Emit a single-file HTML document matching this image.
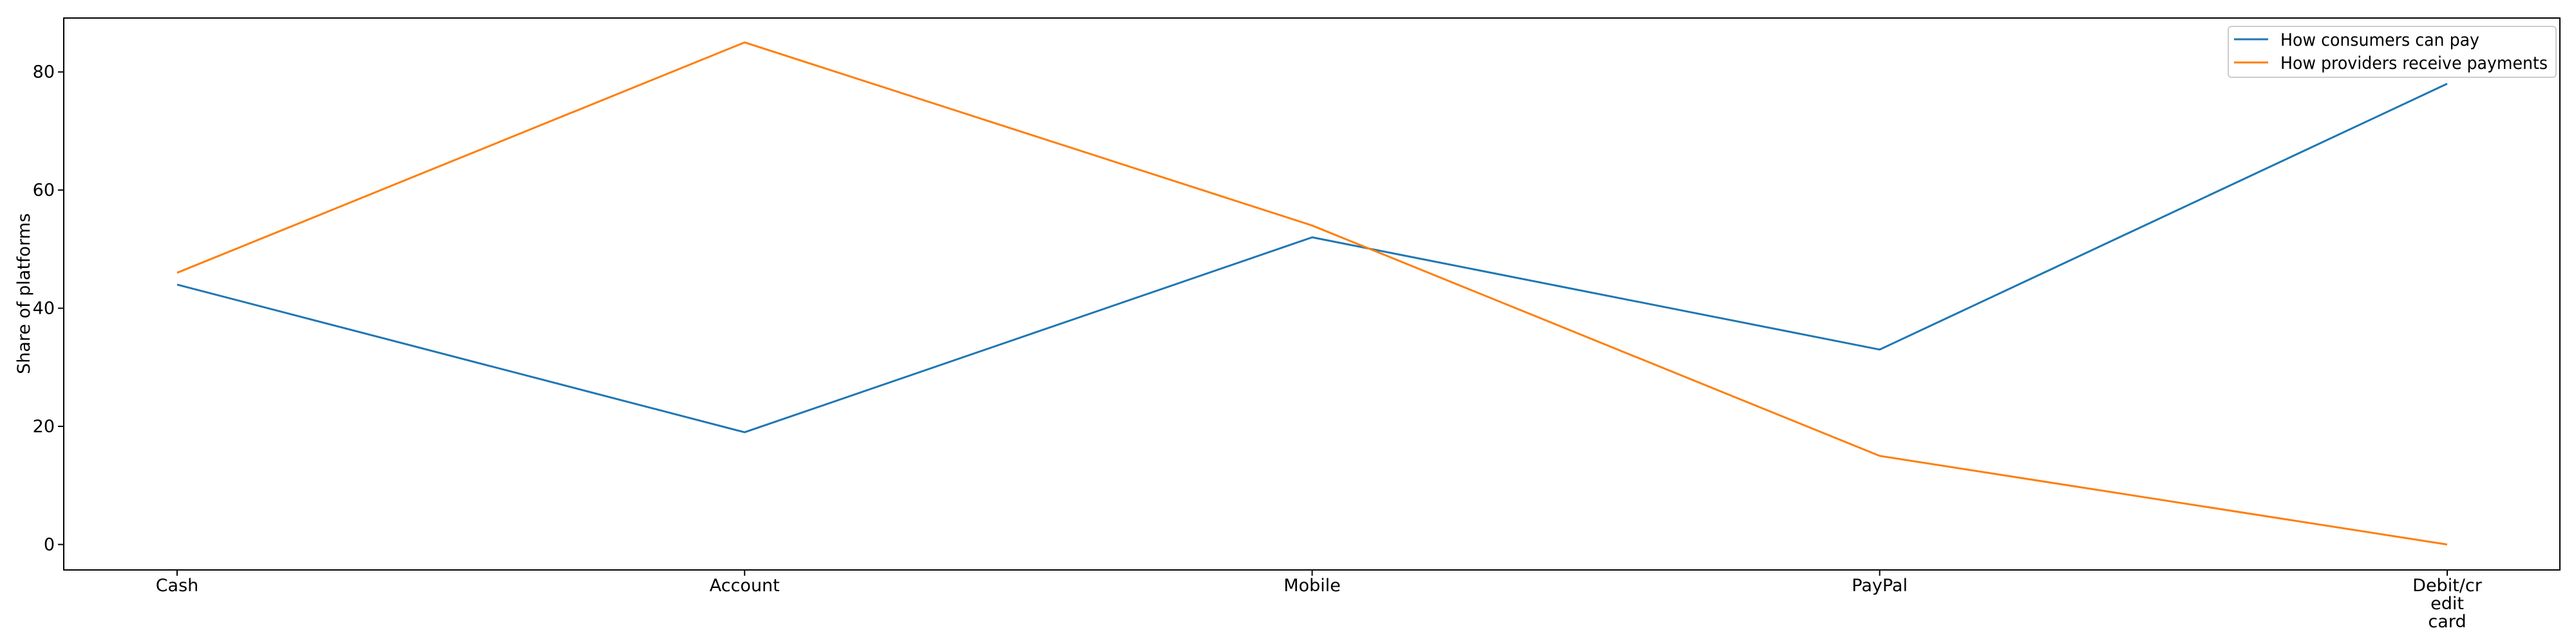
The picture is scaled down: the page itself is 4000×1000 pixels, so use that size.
<!DOCTYPE html>
<html><head><meta charset="utf-8"><style>
html,body{margin:0;padding:0;background:#fff;width:4000px;height:1000px;overflow:hidden}
svg text{font-family:"DejaVu Sans","Liberation Sans",sans-serif;fill:#000}
</style></head><body>
<svg id="chart" width="4000" height="1000" xmlns="http://www.w3.org/2000/svg">
<rect x="0" y="0" width="4000" height="1000" fill="#fff"/>
<g id="plot"></g>
</svg>
<script>
const categories = ["Cash","Account","Mobile","PayPal","Debit/cr\nedit\ncard"];
const consumers = [44,19,52,33,78];
const providers = [46,85,54,15,0];
const yTicks = [0,20,40,60,80];
const seriesNames = ["How consumers can pay","How providers receive payments"];

const L=99, R=3975, T=28, B=885;
const x0=275, x1=3800;
function xs(i){return x0+(x1-x0)*i/(categories.length-1);}
function ys(v){return 845.5+(111.7-845.5)*v/80;}
const NS="http://www.w3.org/2000/svg";
const g=document.getElementById('plot');
function mk(tag,attrs,parent){const e=document.createElementNS(NS,tag);for(const k in attrs)e.setAttribute(k,attrs[k]);(parent||g).appendChild(e);return e;}

const frame=mk('rect',{x:L,y:T,width:R-L,height:B-T,fill:'none',stroke:'#000','stroke-width':2});



yTicks.forEach(v=>{
  const y=ys(v);
  const t=mk('line',{x1:L-9,x2:L,y1:y,y2:y,stroke:'#000','stroke-width':2});
  
  
  const tx=mk('text',{x:L-14,y:y+9,'text-anchor':'end','font-size':27});
  tx.textContent=v;
  
  
});
categories.forEach((c,i)=>{
  const x=xs(i);
  const t=mk('line',{x1:x,x2:x,y1:B,y2:B+9,stroke:'#000','stroke-width':2});
  
  
  c.split('\n').forEach((ln,j)=>{
    const tx=mk('text',{x:x,y:918+j*28,'text-anchor':'middle','font-size':27});
    tx.textContent=ln;
    
    
  });
});
const yl=mk('text',{x:0,y:0,'text-anchor':'middle','font-size':27,transform:'translate(46,456) rotate(-90)'});
yl.textContent='Share of platforms';



function drawLine(vals,color,name){
  const p=mk('polyline',{points:vals.map((v,i)=>xs(i)+','+ys(v)).join(' '),fill:'none',stroke:color,'stroke-width':3,'stroke-linejoin':'round'});
  
  
}
drawLine(consumers,'#1f77b4','consumers-line');
drawLine(providers,'#ff7f0e','providers-line');

const lg=mk('g',{});


mk('rect',{x:3460,y:41,width:509,height:79,rx:5,fill:'#fff','fill-opacity':0.8,stroke:'#ccc','stroke-width':2},lg);
[['#1f77b4',seriesNames[0],61,309],['#ff7f0e',seriesNames[1],97,415]].forEach(([c,n,y,w])=>{
  const e=mk('g',{},lg);
  
  
  mk('line',{x1:3469,x2:3522,y1:y,y2:y,stroke:c,'stroke-width':3},e);
  const t=mk('text',{x:3541,y:y+10,'font-size':27,textLength:w,lengthAdjust:'spacingAndGlyphs'},e);
  t.textContent=n;
});
</script>
</body></html>
